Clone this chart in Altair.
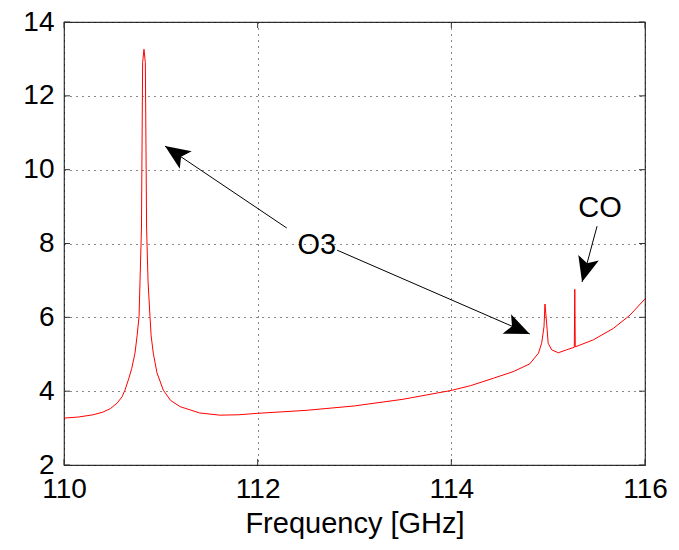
import math
import altair as alt
import pandas as pd

# ---- spectrum ----
freq = [110.00, 110.15, 110.30, 110.40, 110.48, 110.55, 110.60, 110.63, 110.67, 110.70,
        110.733, 110.755, 110.775, 110.785, 110.80, 110.812, 110.826, 110.84, 110.853,
        110.868, 110.888, 110.90, 110.922, 110.96, 111.025, 111.10, 111.20, 111.40, 111.61,
        111.80, 112.00, 112.50, 113.00, 113.50, 114.00, 114.20, 114.434, 114.64, 114.81,
        114.90, 114.933, 114.957, 114.967, 114.985, 115.00, 115.036, 115.105, 115.19,
        115.27, 115.275, 115.28, 115.466, 115.673, 115.845, 116.00]
power = [3.27, 3.30, 3.36, 3.43, 3.53, 3.68, 3.85, 4.03, 4.35, 4.62,
         5.03, 5.50, 6.02, 6.97, 8.42, 12.9, 13.26, 12.9, 8.42,
         6.97, 6.02, 5.50, 5.03, 4.50, 4.03, 3.75, 3.58, 3.41, 3.35,
         3.36, 3.40, 3.48, 3.60, 3.78, 4.02, 4.15, 4.35, 4.53, 4.74,
         5.03, 5.30, 5.75, 6.36, 5.82, 5.30, 5.12, 5.04, 5.12,
         5.19, 6.76, 5.20, 5.39, 5.70, 6.06, 6.50]

x_ticks = [110, 112, 114, 116]
y_ticks = [2, 4, 6, 8, 10, 12, 14]

# ---- annotations ----
arrow_tail_f = [112.30, 112.82, 115.505]
arrow_tail_v = [8.42, 7.82, 8.47]
arrow_tip_f = [111.043, 114.81, 115.35]
arrow_tip_v = [10.64, 5.55, 6.96]
label_text = ["O3", "CO"]
label_f = [112.61, 115.535]
label_v = [7.96, 8.96]

W, H = 581, 443
XD = [110, 116]
YD = [2, 14]
FONT = "Liberation Sans"

xs = alt.Scale(domain=XD, nice=False, zero=False)
ys = alt.Scale(domain=YD, nice=False, zero=False)

line_df = pd.DataFrame({"f": freq, "v": power, "i": list(range(len(freq)))})

angles = []
for tf, tv, hf, hv in zip(arrow_tail_f, arrow_tail_v, arrow_tip_f, arrow_tip_v):
    dx = (hf - tf) / (XD[1] - XD[0]) * W
    dy = -(hv - tv) / (YD[1] - YD[0]) * H
    angles.append(math.degrees(math.atan2(dx, -dy)) % 360)

arrow_df = pd.DataFrame({"f": arrow_tail_f, "v": arrow_tail_v,
                         "f2": arrow_tip_f, "v2": arrow_tip_v})
head_df = pd.DataFrame({"f": arrow_tip_f, "v": arrow_tip_v, "a": angles})
label_df = pd.DataFrame({"f": label_f, "v": label_v, "t": label_text})
xt_df = pd.DataFrame({"f": x_ticks})
yt_df = pd.DataFrame({"v": y_ticks})

x_axis = alt.Axis(values=x_ticks, format="d", title="Frequency [GHz]",
                  labelFontSize=28, labelFont=FONT, labelColor="black",
                  labelPadding=10, labelFlush=False, labelOverlap=False, labelBound=False,
                  ticks=False, domain=False,
                  grid=True, gridDash=[1, 5], gridColor="#111", gridOpacity=1, gridWidth=1,
                  titleFontSize=29, titleFont=FONT, titleFontWeight="normal",
                  titleColor="black", titlePadding=6)
y_axis = alt.Axis(values=y_ticks, format="d", title="",
                  labelFontSize=28, labelFont=FONT, labelColor="black",
                  labelPadding=10, labelFlush=False, labelOverlap=False, labelBound=False,
                  ticks=False, domain=False,
                  grid=True, gridDash=[1, 5], gridColor="#111", gridOpacity=1, gridWidth=1)

line = alt.Chart(line_df).mark_line(color="#ff0000", strokeWidth=1).encode(
    x=alt.X("f:Q", scale=xs, axis=x_axis),
    y=alt.Y("v:Q", scale=ys, axis=y_axis),
    order=alt.Order("i:Q"),
)

shafts = alt.Chart(arrow_df).mark_rule(color="black", strokeWidth=1).encode(
    x=alt.X("f:Q", scale=xs), y=alt.Y("v:Q", scale=ys),
    x2="f2:Q", y2="v2:Q",
)

heads = alt.Chart(head_df).mark_point(
    shape="M0,0 L0.85,2 L0,1.55 L-0.85,2 Z", filled=True, color="black",
    opacity=1, size=625, strokeWidth=0,
).encode(
    x=alt.X("f:Q", scale=xs), y=alt.Y("v:Q", scale=ys),
    angle=alt.Angle("a:Q", scale=None),
)

labels = alt.Chart(label_df).mark_text(
    font=FONT, fontSize=29, color="black", align="center", baseline="middle"
).encode(
    x=alt.X("f:Q", scale=xs), y=alt.Y("v:Q", scale=ys), text="t:N",
)

tick_bottom = alt.Chart(xt_df).mark_rule(color="#333").encode(
    x=alt.X("f:Q", scale=xs), y=alt.value(H), y2=alt.value(H - 6))
tick_top = alt.Chart(xt_df).mark_rule(color="#333").encode(
    x=alt.X("f:Q", scale=xs), y=alt.value(0), y2=alt.value(6))
tick_left = alt.Chart(yt_df).mark_rule(color="#333").encode(
    y=alt.Y("v:Q", scale=ys), x=alt.value(0), x2=alt.value(6))
tick_right = alt.Chart(yt_df).mark_rule(color="#333").encode(
    y=alt.Y("v:Q", scale=ys), x=alt.value(W), x2=alt.value(W - 6))

chart = alt.layer(
    line, tick_bottom, tick_top, tick_left, tick_right, shafts, heads, labels
).properties(
    width=W, height=H,
    autosize=alt.AutoSizeParams(type="none"),
    padding={"left": 64, "top": 22, "right": 34, "bottom": 85},
    background="white",
).configure_view(stroke="#333", strokeWidth=1.2)

chart.save("out.html", embed_options={"renderer": "svg", "actions": False})
